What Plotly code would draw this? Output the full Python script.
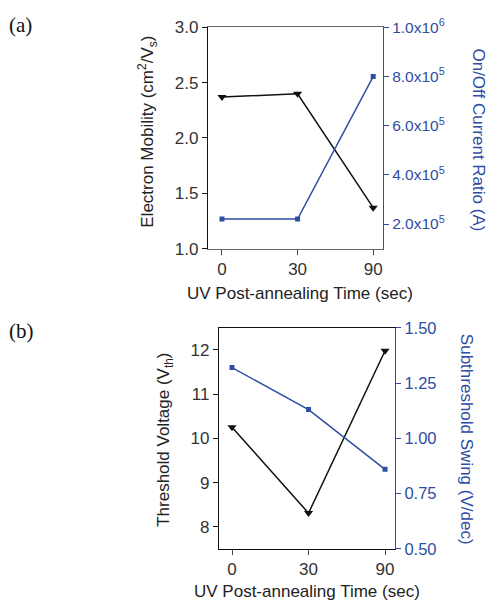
import plotly.graph_objects as go

# ---- data ----
time_labels = ["0", "30", "90"]
mobility = [2.37, 2.40, 1.37]
onoff_ratio = [2.2e5, 2.2e5, 8.0e5]
threshold_voltage = [10.25, 8.31, 11.98]
subthreshold_swing = [1.32, 1.13, 0.86]

onoff_tickvals = [2e5, 4e5, 6e5, 8e5, 1e6]
onoff_ticktext = ["2.0x10<sup>5</sup>", "4.0x10<sup>5</sup>", "6.0x10<sup>5</sup>",
                  "8.0x10<sup>5</sup>", "1.0x10<sup>6</sup>"]

W, H = 488, 614
BLUE = "#2f4da3"
BLACK = "#111111"
FONT = "Liberation Sans, Arial, sans-serif"

def px_x(p):
    return p / W

def px_y(p):
    return 1 - p / H

fig = go.Figure()

# Panel (a)
fig.add_trace(go.Scatter(x=time_labels, y=mobility, mode="lines+markers",
                         line=dict(color=BLACK, width=1.5),
                         marker=dict(symbol="triangle-down", size=8, color=BLACK),
                         xaxis="x", yaxis="y", showlegend=False))
fig.add_trace(go.Scatter(x=time_labels, y=onoff_ratio, mode="lines+markers",
                         line=dict(color=BLUE, width=1.5),
                         marker=dict(symbol="square", size=5, color=BLUE),
                         xaxis="x", yaxis="y2", showlegend=False))
# Panel (b)
fig.add_trace(go.Scatter(x=time_labels, y=threshold_voltage, mode="lines+markers",
                         line=dict(color=BLACK, width=1.5),
                         marker=dict(symbol="triangle-down", size=8, color=BLACK),
                         xaxis="x2", yaxis="y3", showlegend=False))
fig.add_trace(go.Scatter(x=time_labels, y=subthreshold_swing, mode="lines+markers",
                         line=dict(color=BLUE, width=1.5),
                         marker=dict(symbol="square", size=5, color=BLUE),
                         xaxis="x2", yaxis="y4", showlegend=False))

tickfont = dict(family=FONT, size=17, color="#333333")
bluefont = dict(family=FONT, size=16.5, color=BLUE)

xa_common = dict(type="category", showgrid=False, zeroline=False, showline=True,
                 linecolor="#444444", linewidth=1.2, mirror=True,
                 ticks="outside", ticklen=5, tickcolor="#444444", tickfont=tickfont)
ya_common = dict(showgrid=False, zeroline=False, showline=True, linecolor=BLACK,
                 linewidth=1.2, ticks="outside", ticklen=5, tickcolor=BLACK,
                 tickfont=tickfont)

fig.update_layout(
    width=W, height=H,
    margin=dict(l=0, r=0, t=0, b=0),
    paper_bgcolor="white", plot_bgcolor="white",
    xaxis=dict(xa_common, domain=[px_x(208), px_x(383)], range=[-0.185, 2.13],
               anchor="y", linecolor="#666666"),
    yaxis=dict(ya_common, domain=[px_y(246), px_y(17)], range=[1.0, 3.0],
               tickvals=[1.0, 1.5, 2.0, 2.5, 3.0], ticktext=["1.0", "1.5", "2.0", "2.5", "3.0"],
               anchor="x"),
    yaxis2=dict(ya_common, overlaying="y", side="right", anchor="x",
                range=[1e5, 1e6], tickvals=onoff_tickvals, ticktext=onoff_ticktext,
                linecolor=BLUE, tickcolor=BLUE, tickfont=dict(family=FONT, size=15.5, color=BLUE)),
    xaxis2=dict(xa_common, domain=[px_x(219), px_x(395)], range=[-0.17, 2.13],
                anchor="y3", linecolor=BLACK),
    yaxis3=dict(ya_common, domain=[px_y(557), px_y(328)], range=[7.5, 12.5],
                tickvals=[8, 9, 10, 11, 12], anchor="x2"),
    yaxis4=dict(ya_common, overlaying="y3", side="right", anchor="x2",
                range=[0.5, 1.5], tickvals=[0.5, 0.75, 1.0, 1.25, 1.5],
                ticktext=["0.50", "0.75", "1.00", "1.25", "1.50"],
                linecolor=BLUE, tickcolor=BLUE, tickfont=bluefont),
)

title_font = dict(family=FONT, size=17, color="#222222")
blue_title_font = dict(family=FONT, size=17, color=BLUE)
serif = dict(family="Liberation Serif, Times New Roman, serif", size=21, color="#111111")

annotations = [
    dict(text="(a)", x=px_x(20), y=px_y(15), font=serif),
    dict(text="(b)", x=px_x(21), y=px_y(331), font=serif),
    dict(text="Electron Mobility (cm<sup>2</sup>/V<sub>s</sub>)", x=px_x(148), y=px_y(125),
         textangle=-90, font=title_font),
    dict(text="On/Off Current Ratio (A)", x=px_x(479), y=px_y(133),
         textangle=90, font=blue_title_font),
    dict(text="UV Post-annealing Time (sec)", x=px_x(300), y=px_y(292), font=title_font),
    dict(text="Threshold Voltage (V<sub>th</sub>)", x=px_x(165), y=px_y(444),
         textangle=-90, font=title_font),
    dict(text="Subthreshold Swing (V/dec)", x=px_x(466), y=px_y(443),
         textangle=90, font=blue_title_font),
    dict(text="UV Post-annealing Time (sec)", x=px_x(307), y=px_y(601), font=title_font),
]
for a in annotations:
    a.update(xref="paper", yref="paper", showarrow=False, xanchor="center", yanchor="middle")
fig.update_layout(annotations=annotations)

fig.write_html("out.html",
               config={"displayModeBar": False},
               post_script="document.body.style.margin='0';document.body.style.overflow='hidden';")
